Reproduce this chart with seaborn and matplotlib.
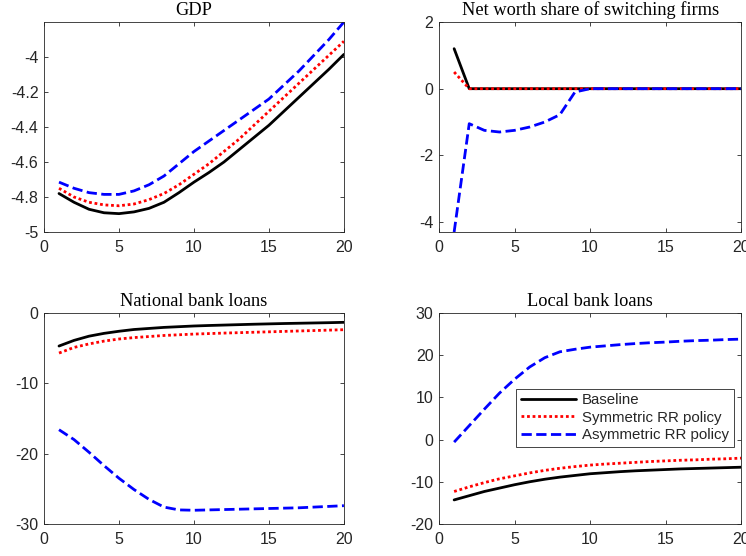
import numpy as np
import pandas as pd
import matplotlib
matplotlib.use("Agg")
import matplotlib.pyplot as plt
import seaborn as sns

periods = list(range(1, 21))
series_names = ["Baseline", "Symmetric RR policy", "Asymmetric RR policy"]

gdp_base = [-4.78, -4.83, -4.87, -4.89, -4.895, -4.885, -4.865, -4.83, -4.775, -4.715,
            -4.66, -4.60, -4.53, -4.46, -4.39, -4.31, -4.23, -4.15, -4.07, -3.985]
gdp_sym = [-4.75, -4.80, -4.83, -4.845, -4.85, -4.84, -4.815, -4.78, -4.73, -4.67,
           -4.61, -4.54, -4.47, -4.39, -4.31, -4.23, -4.15, -4.07, -3.99, -3.91]
gdp_asym = [-4.715, -4.75, -4.775, -4.785, -4.785, -4.765, -4.73, -4.68, -4.61, -4.54,
            -4.48, -4.42, -4.36, -4.30, -4.24, -4.16, -4.08, -3.99, -3.90, -3.80]

nw_base = [1.2] + [0.0] * 19
nw_sym = [0.5] + [0.0] * 19
nw_asym = [-4.3, -1.05, -1.25, -1.3, -1.25, -1.15, -1.0, -0.78, -0.1, 0.0,
           0.0, 0.0, 0.0, 0.0, 0.0, 0.0, 0.0, 0.0, 0.0, 0.0]

nat_base = [-4.7, -3.9, -3.3, -2.9, -2.6, -2.35, -2.2, -2.05, -1.95, -1.85,
            -1.78, -1.72, -1.66, -1.6, -1.55, -1.5, -1.46, -1.42, -1.38, -1.33]
nat_sym = [-5.7, -4.9, -4.4, -4.0, -3.7, -3.5, -3.35, -3.2, -3.1, -3.0,
           -2.93, -2.86, -2.8, -2.74, -2.68, -2.62, -2.56, -2.5, -2.44, -2.38]
nat_asym = [-16.6, -18.0, -19.8, -21.7, -23.5, -25.1, -26.5, -27.6, -28.0, -28.05,
            -28.0, -27.95, -27.9, -27.85, -27.8, -27.75, -27.7, -27.6, -27.5, -27.4]

loc_base = [-14.3, -13.3, -12.3, -11.5, -10.7, -10.0, -9.4, -8.9, -8.5, -8.1,
            -7.85, -7.6, -7.4, -7.25, -7.1, -6.95, -6.85, -6.75, -6.65, -6.55]
loc_sym = [-12.3, -11.2, -10.2, -9.3, -8.6, -7.9, -7.3, -6.8, -6.4, -6.05,
           -5.8, -5.6, -5.4, -5.2, -5.05, -4.9, -4.8, -4.65, -4.55, -4.4]
loc_asym = [-0.6, 3.3, 7.2, 11.0, 14.3, 17.2, 19.4, 20.8, 21.4, 21.9,
            22.2, 22.5, 22.75, 22.95, 23.1, 23.3, 23.45, 23.55, 23.7, 23.8]

titles = ["GDP", "Net worth share of switching firms", "National bank loans", "Local bank loans"]
panels = [
    (gdp_base, gdp_sym, gdp_asym),
    (nw_base, nw_sym, nw_asym),
    (nat_base, nat_sym, nat_asym),
    (loc_base, loc_sym, loc_asym),
]
ylims = [(-5, -3.8), (-4.3, 2), (-30, 0), (-20, 30)]
yticks = [[-5, -4.8, -4.6, -4.4, -4.2, -4], [-4, -2, 0, 2], [-30, -20, -10, 0], [-20, -10, 0, 10, 20, 30]]
yticklabels = [["-5", "-4.8", "-4.6", "-4.4", "-4.2", "-4"], ["-4", "-2", "0", "2"],
               ["-30", "-20", "-10", "0"], ["-20", "-10", "0", "10", "20", "30"]]
xticks = [0, 5, 10, 15, 20]

sns.set_style("ticks")
plt.rcParams["font.family"] = ["Liberation Sans", "DejaVu Sans"]

colors = ["black", "red", "blue"]
styles = ["-", ":", "--"]

fig = plt.figure(figsize=(7.46, 5.56), dpi=100)
positions = [
    [0.059, 0.5827, 0.402, 0.3777],
    [0.5885, 0.5827, 0.405, 0.3777],
    [0.059, 0.0576, 0.402, 0.3795],
    [0.5885, 0.0576, 0.405, 0.3795],
]
gray = "#262626"
for i, (pos, data) in enumerate(zip(positions, panels)):
    ax = fig.add_axes(pos)
    for j, ys in enumerate(data):
        df = pd.DataFrame({"t": periods, "v": ys})
        sns.lineplot(data=df, x="t", y="v", ax=ax, color=colors[j], linewidth=2,
                     linestyle=styles[j], label=series_names[j], legend=False)
        line = ax.lines[-1]
        if j == 1:
            line.set_dashes([1, 1])
    ax.set_xlim(0, 20)
    ax.set_ylim(*ylims[i])
    ax.set_xticks(xticks)
    ax.set_xticklabels([str(t) for t in xticks])
    ax.set_yticks(yticks[i])
    ax.set_yticklabels(yticklabels[i])
    ax.set_xlabel("")
    ax.set_ylabel("")
    ax.set_title(titles[i], fontsize=13.2, family=["Liberation Serif", "DejaVu Serif"],
                 color="black", pad=5)
    ax.tick_params(direction="in", top=True, right=True, length=3, width=0.6,
                   labelsize=11.5, colors=gray)
    ax.tick_params(axis="x", pad=6)
    ax.tick_params(axis="y", pad=4)
    for sp in ax.spines.values():
        sp.set_visible(True)
        sp.set_color(gray)
        sp.set_linewidth(0.6)
    if i == 3:
        leg = ax.legend(loc="upper left", bbox_to_anchor=(0.255, 0.64), fontsize=10.8,
                        frameon=True, fancybox=False, framealpha=1, borderpad=0.3,
                        handlelength=3.7, labelspacing=0.22, handletextpad=0.4,
                        borderaxespad=0)
        leg.get_frame().set_edgecolor(gray)
        leg.get_frame().set_linewidth(0.6)

fig.savefig("out.png", dpi=100)
